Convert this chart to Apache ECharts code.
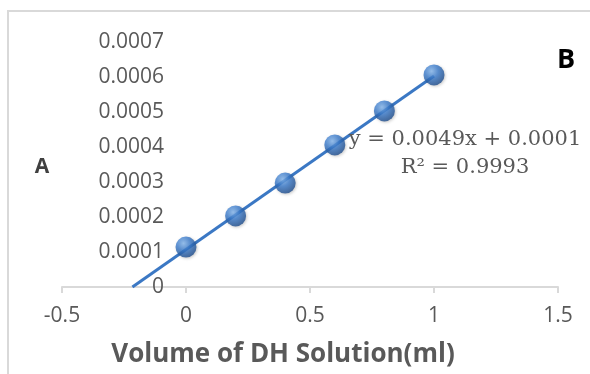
<!DOCTYPE html>
<html>
<head>
<meta charset="utf-8">
<script src="https://cdn.jsdelivr.net/npm/echarts@6/dist/echarts.min.js"></script>
<style>
  html, body { margin: 0; padding: 0; background: #fff; }
  #chart { width: 590px; height: 374px; }
</style>
</head>
<body>
<div id="chart"></div>
<script>
// data
const volumes = [0, 0.2, 0.4, 0.6, 0.8, 1.0];
const absorb = [0.000114, 0.000203, 0.000297, 0.000406, 0.000503, 0.000606];
const xTicks = [-0.5, 0, 0.5, 1, 1.5];
const yTicks = [0, 0.0001, 0.0002, 0.0003, 0.0004, 0.0005, 0.0006, 0.0007];

// linear trendline (least squares), extended back to y = 0
const n = volumes.length;
const mx = volumes.reduce((a, b) => a + b, 0) / n;
const my = absorb.reduce((a, b) => a + b, 0) / n;
let sxy = 0, sxx = 0;
for (let i = 0; i < n; i++) {
  sxy += (volumes[i] - mx) * (absorb[i] - my);
  sxx += (volumes[i] - mx) * (volumes[i] - mx);
}
const slope = sxy / sxx;
const icpt = my - slope * mx;
const xStart = -icpt / slope;
const xEnd = volumes[n - 1];
const trend = [[xStart, 0], [xEnd, icpt + slope * xEnd]];

const chart = echarts.init(document.getElementById('chart'));

const ball = {
  type: 'radial', x: 0.38, y: 0.32, r: 0.72,
  colorStops: [
    { offset: 0, color: '#86b8ef' },
    { offset: 0.45, color: '#3a7bcc' },
    { offset: 1, color: '#1d4a88' }
  ]
};

const option = {
  animation: false,
  grid: { left: 62, right: 32, top: 42, bottom: 87, containLabel: false, outerBoundsMode: 'none' },
  xAxis: {
    type: 'value',
    min: xTicks[0], max: xTicks[xTicks.length - 1], interval: 0.5,
    splitLine: { show: false },
    axisLine: { onZero: false, lineStyle: { color: '#d9d9d9', width: 2 } },
    axisTick: { show: true, length: 6, lineStyle: { color: '#d9d9d9', width: 2 } },
    axisLabel: {
      color: '#595959', fontFamily: 'Open Sans', fontSize: 21, margin: 19,
      formatter: v => String(v)
    }
  },
  yAxis: {
    type: 'value',
    min: yTicks[0], max: yTicks[yTicks.length - 1], interval: 0.0001,
    // the vertical axis sits at x = 0 (a quarter of the way across)
    offset: -124,
    splitLine: { show: false },
    axisLine: { show: false },
    axisTick: { show: false },
    axisLabel: {
      color: '#595959', fontFamily: 'Open Sans', fontSize: 21, margin: 22,
      formatter: v => (v === 0 ? '0' : v.toFixed(4))
    }
  },
  graphic: [
    {
      type: 'rect', z: -1, silent: true,
      shape: { x: 8, y: 11, width: 620, height: 420 },
      style: { fill: null, stroke: '#d9d9d9', lineWidth: 2 }
    },
    {
      type: 'text', x: 283, y: 355, z: 100,
      style: {
        text: 'Volume of DH Solution(ml)', fill: '#595959',
        font: 'bold 26px "Open Sans"', align: 'center', verticalAlign: 'middle'
      }
    },
    {
      type: 'text', x: 42, y: 167, z: 100,
      style: { text: 'A', fill: '#404040', font: 'bold 21px "Open Sans"', align: 'center', verticalAlign: 'middle' }
    },
    {
      type: 'text', x: 566, y: 60, z: 100,
      style: { text: 'B', fill: '#000', font: 'bold 27px "Open Sans"', align: 'center', verticalAlign: 'middle' }
    },
    {
      type: 'text', x: 465, y: 126, z: 100,
      style: {
        text: 'y = 0.0049x + 0.0001\nR² = 0.9993',
        fill: '#595959', font: '21px "DejaVu Serif"',
        align: 'center', lineHeight: 28
      }
    }
  ],
  series: [
    {
      type: 'line',
      data: trend,
      showSymbol: false,
      symbol: 'none',
      lineStyle: { color: '#3b78c4', width: 3 },
      z: 2
    },
    {
      type: 'scatter',
      data: volumes.map((v, i) => [v, absorb[i]]),
      symbol: 'circle',
      symbolSize: 21,
      itemStyle: {
        color: ball,
        shadowColor: 'rgba(0,0,0,0.25)', shadowBlur: 3, shadowOffsetX: 1, shadowOffsetY: 1
      },
      z: 3
    }
  ]
};

chart.setOption(option);
</script>
</body>
</html>
